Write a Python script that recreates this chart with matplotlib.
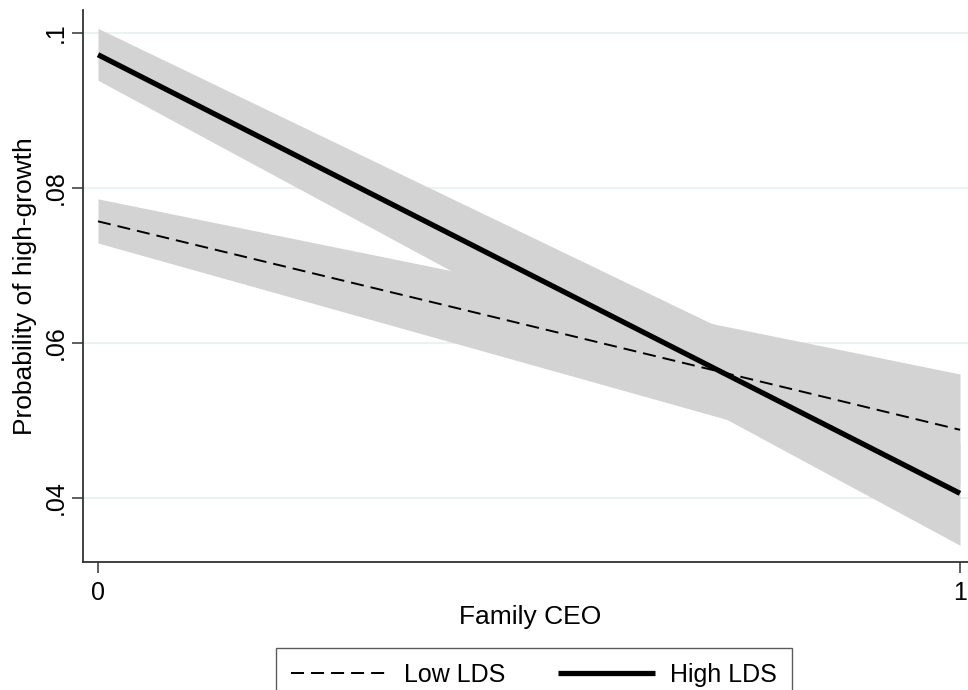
import numpy as np
import matplotlib
matplotlib.use('Agg')
import matplotlib.pyplot as plt

# margins at Family CEO = 0 / 1
family_ceo = [0, 1]
low_lds = [0.0757, 0.0488]
low_lds_lo = [0.0729, 0.0417]
low_lds_hi = [0.0786, 0.0560]
high_lds = [0.0972, 0.0406]
high_lds_lo = [0.0939, 0.0339]
high_lds_hi = [0.1006, 0.0471]

yticks = [0.04, 0.06, 0.08, 0.1]
ytick_labels = ['.04', '.06', '.08', '.1']
xticks = [0, 1]
xtick_labels = ['0', '1']

plt.rcParams['font.family'] = ['Liberation Sans', 'DejaVu Sans']
sizefont = 18

fig = plt.figure(figsize=(9.68, 6.9), dpi=100)
ax = fig.add_axes([83/968, 1-562/690, 1-83/968, (562-10)/690])

bandcol = '#d3d3d3'
ax.fill_between(family_ceo, low_lds_lo, low_lds_hi, color=bandcol, lw=0, zorder=2)
ax.fill_between(family_ceo, high_lds_lo, high_lds_hi, color=bandcol, lw=0, zorder=2)

for yy in yticks:
    ax.axhline(yy, color='#e6f0f1', lw=1.2, zorder=1)

l1, = ax.plot(family_ceo, low_lds, color='black', lw=1.4, label='Low LDS', zorder=3)
l1.set_dashes([6.7, 3.6])
l2, = ax.plot(family_ceo, high_lds, color='black', lw=3.8, label='High LDS', zorder=4,
              solid_capstyle='butt')

ax.set_xlim(-15/862, 870/862)
ax.set_ylim(0.04 - 64/7750, 0.04 + 488/7750)

ax.set_yticks(yticks)
ax.set_yticklabels(ytick_labels, rotation=90, va='center')
ax.set_xticks(xticks)
ax.set_xticklabels(xtick_labels)
ax.tick_params(axis='both', labelsize=sizefont, length=8, width=1.1, color='#333333', direction='out')
ax.tick_params(axis='y', pad=3)
ax.tick_params(axis='x', pad=6)

for sp in ['top', 'right']:
    ax.spines[sp].set_visible(False)
for sp in ['left', 'bottom']:
    ax.spines[sp].set_color('#333333')
    ax.spines[sp].set_linewidth(1.3)

ax.set_xlabel('Family CEO', fontsize=19, va='center')
ax.xaxis.set_label_coords((530-83)/885, (562-617)/552)
ax.set_ylabel('Probability of high-growth', fontsize=19, va='center')
ax.yaxis.set_label_coords((25-83)/885, 0.5)

leg = fig.legend(handles=[l1, l2], loc='upper center', bbox_to_anchor=(534/968, 1-648/690),
                 ncol=2, fontsize=sizefont, frameon=True, fancybox=False, handlelength=3.9,
                 handletextpad=0.6, columnspacing=2.1, borderpad=0.6, borderaxespad=0)
leg.get_frame().set_edgecolor('#333333')
leg.get_frame().set_linewidth(1.0)

plt.savefig('out.png', dpi=100)
